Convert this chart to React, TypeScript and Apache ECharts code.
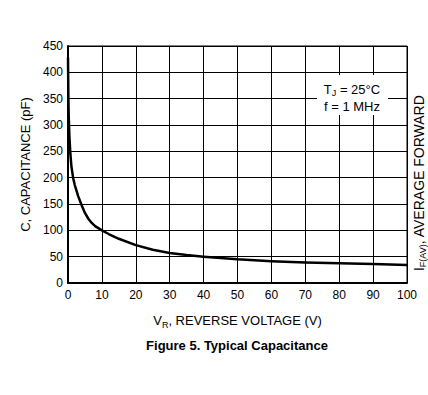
import React, { useEffect, useRef } from "react";
import * as echarts from "echarts";

const voltage = [0, 0.1, 0.2, 0.4, 0.7, 1, 1.5, 2, 3, 4, 5, 6, 7, 8, 10, 12, 15, 20, 25, 30, 35, 40, 50, 60, 70, 80, 90, 100];
const capacitance = [428, 360, 320, 280, 245, 222, 200, 186, 165, 148, 133, 122, 114, 108, 100, 93, 84, 72, 63, 57, 53, 50, 45, 41.5, 39, 37.5, 36, 34];
const xTicks = { min: 0, max: 100, interval: 10 };
const yTicks = { min: 0, max: 450, interval: 50 };

const FONT = "Liberation Sans, Arial, sans-serif";

export default function App() {
  const ref = useRef<HTMLDivElement>(null);
  useEffect(() => {
    if (!ref.current) return;
    const chart = echarts.init(ref.current, null, { renderer: "svg" });
    const data = voltage.map((v, i) => [v, capacitance[i]]);
    chart.setOption({
      animation: false,
      backgroundColor: "#ffffff",
      grid: {
        left: 68,
        right: 21,
        top: 46,
        bottom: 112,
        show: true,
        borderColor: "#000",
        borderWidth: 1,
      },
      xAxis: {
        type: "value",
        min: xTicks.min,
        max: xTicks.max,
        interval: xTicks.interval,
        axisLine: { show: true, onZero: false, lineStyle: { color: "#000", width: 2 } },
        axisTick: { show: false },
        splitLine: { show: true, lineStyle: { color: "#000", width: 1 } },
        axisLabel: { color: "#000", fontFamily: FONT, fontSize: 12, margin: 6 },
        name: "{m|V}{s|R}{m|, REVERSE VOLTAGE (V)}",
        nameLocation: "middle",
        nameGap: 29,
        nameTextStyle: {
          rich: {
            m: { fontFamily: FONT, fontSize: 13, color: "#000" },
            s: { fontFamily: FONT, fontSize: 9, color: "#000", padding: [8, 0, 0, 0] },
          },
        },
      },
      yAxis: {
        type: "value",
        min: yTicks.min,
        max: yTicks.max,
        interval: yTicks.interval,
        axisLine: { show: true, lineStyle: { color: "#000", width: 2 } },
        axisTick: { show: false },
        splitLine: { show: true, lineStyle: { color: "#000", width: 1 } },
        axisLabel: { color: "#000", fontFamily: FONT, fontSize: 12, margin: 5 },
        name: "C, CAPACITANCE (pF)",
        nameLocation: "middle",
        nameGap: 31,
        nameTextStyle: { fontFamily: FONT, fontSize: 13, color: "#000" },
      },
      series: [
        {
          type: "line",
          data,
          showSymbol: false,
          smooth: false,
          lineStyle: { color: "#000", width: 2.5, join: "round" },
          z: 5,
        },
      ],
      graphic: [
        {
          type: "rect",
          shape: { x: 317, y: 75, width: 71, height: 40 },
          style: { fill: "#fff" },
          z: 10,
        },
        {
          type: "text",
          x: 352,
          y: 89,
          style: {
            text: "{m|T}{s|J}{m| = 25°C}",
            align: "center",
            verticalAlign: "middle",
            rich: {
              m: { fontFamily: FONT, fontSize: 13, fill: "#000" },
              s: { fontFamily: FONT, fontSize: 9, fill: "#000", padding: [7, 0, 0, 0] },
            },
          },
          z: 11,
        },
        {
          type: "text",
          x: 352,
          y: 106,
          style: {
            text: "f = 1 MHz",
            align: "center",
            verticalAlign: "middle",
            fontFamily: FONT,
            fontSize: 13,
            fill: "#000",
          },
          z: 11,
        },
        {
          type: "text",
          x: 237,
          y: 345,
          style: {
            text: "Figure 5. Typical Capacitance",
            align: "center",
            verticalAlign: "middle",
            fontFamily: FONT,
            fontSize: 13,
            fontWeight: "bold",
            fill: "#000",
          },
        },
        {
          type: "text",
          x: 419,
          y: 271,
          rotation: Math.PI / 2,
          style: {
            text: "{m|I}{s|F(AV)}{m|, AVERAGE FORWARD}",
            align: "left",
            verticalAlign: "middle",
            rich: {
              m: { fontFamily: FONT, fontSize: 14, fill: "#000" },
              s: { fontFamily: FONT, fontSize: 9, fill: "#000", padding: [8, 0, 0, 0] },
            },
          },
        },
      ],
    });
    return () => chart.dispose();
  }, []);
  return <div ref={ref} style={{ width: 428, height: 395, position: "absolute", left: 0, top: 0 }} />;
}
